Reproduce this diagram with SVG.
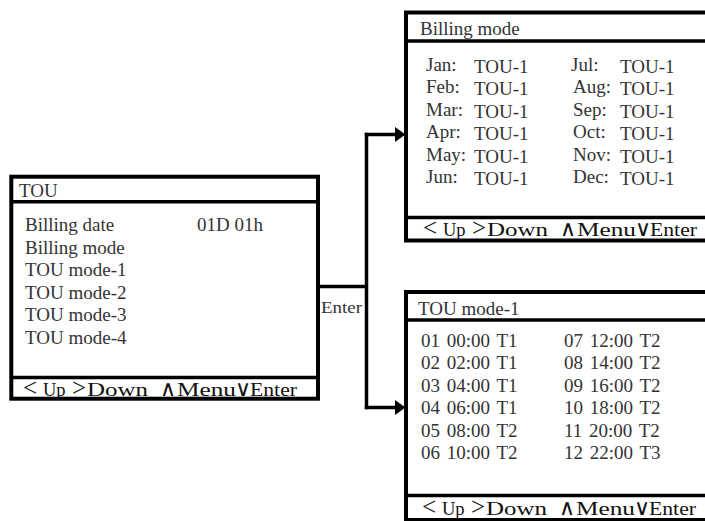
<svg xmlns="http://www.w3.org/2000/svg" width="705" height="521" viewBox="0 0 705 521">
<defs>
<style>
.box{fill:#fff;stroke:#000;stroke-width:4}
.sep{stroke:#000;stroke-width:3.5;fill:none}
.t{font-family:"Liberation Serif",serif;font-size:19px;fill:#333}
.r{word-spacing:2px}
.f{font-family:"Liberation Serif","DejaVu Serif",serif;font-size:18.5px;fill:#111}
.ch{font-size:25px}
.op{font-family:"DejaVu Sans",sans-serif;font-size:22px;font-weight:200}
.lbl{font-family:"Liberation Serif",serif;font-size:17px;fill:#333}
.conn{stroke:#000;stroke-width:3.5;fill:none}
</style>
<marker id="arr" markerUnits="userSpaceOnUse" markerWidth="11" markerHeight="15" refX="0" refY="7.5" orient="auto">
<path d="M0,0 L10.5,7.5 L0,15 z" fill="#000"/>
</marker>
</defs>
<rect width="705" height="521" fill="#fff"/>

<g id="connectors">
<path class="conn" d="M318,286.5 H366.5"/>
<path class="conn" d="M366.5,132.8 V409.2"/>
<path class="conn" d="M364.8,134.5 H395" marker-end="url(#arr)"/>
<path class="conn" d="M364.8,407.5 H395" marker-end="url(#arr)"/>
<text class="lbl" x="321" y="313" textLength="41" lengthAdjust="spacingAndGlyphs">Enter</text>
</g>

<g id="tou-menu">
<rect class="box" x="11.3" y="176.7" width="306.7" height="222"/>
<line class="sep" x1="11.3" y1="201.7" x2="318" y2="201.7"/>
<line class="sep" x1="11.3" y1="377.5" x2="318" y2="377.5"/>
<text class="t" x="19" y="196.5">TOU</text>
<text class="t" x="25" y="231">Billing date</text>
<text class="t" x="197" y="231">01D 01h</text>
<text class="t" x="25" y="253.5">Billing mode</text>
<text class="t" x="25" y="276">TOU mode-1</text>
<text class="t" x="25" y="298.5">TOU mode-2</text>
<text class="t" x="25" y="321">TOU mode-3</text>
<text class="t" x="25" y="343.5">TOU mode-4</text>
<text class="f" y="396"><tspan class="ch" x="23">&lt;</tspan><tspan x="43">Up</tspan><tspan class="ch" x="72">&gt;</tspan><tspan x="87" textLength="61" lengthAdjust="spacingAndGlyphs">Down</tspan><tspan class="op" x="160">∧</tspan><tspan x="177" textLength="59" lengthAdjust="spacingAndGlyphs">Menu</tspan><tspan class="op" x="235">∨</tspan><tspan x="250" textLength="47" lengthAdjust="spacingAndGlyphs">Enter</tspan></text>
</g>

<g id="billing-mode">
<rect class="box" x="406" y="12.5" width="310" height="228"/>
<line class="sep" x1="406" y1="41" x2="710" y2="41"/>
<line class="sep" x1="406" y1="217.5" x2="710" y2="217.5"/>
<text class="t" x="420" y="35">Billing mode</text>
<g class="t">
<text x="426" y="70.5">Jan:</text><text x="474" y="72.5">TOU-1</text>
<text x="426" y="93">Feb:</text><text x="474" y="95">TOU-1</text>
<text x="426" y="115.5">Mar:</text><text x="474" y="117.5">TOU-1</text>
<text x="426" y="138">Apr:</text><text x="474" y="140">TOU-1</text>
<text x="426" y="160.5">May:</text><text x="474" y="162.5">TOU-1</text>
<text x="426" y="183">Jun:</text><text x="474" y="185">TOU-1</text>
<text x="571" y="70.5">Jul:</text><text x="620" y="72.5">TOU-1</text>
<text x="573" y="93">Aug:</text><text x="620" y="95">TOU-1</text>
<text x="573" y="115.5">Sep:</text><text x="620" y="117.5">TOU-1</text>
<text x="573" y="138">Oct:</text><text x="620" y="140">TOU-1</text>
<text x="573" y="160.5">Nov:</text><text x="620" y="162.5">TOU-1</text>
<text x="573" y="183">Dec:</text><text x="620" y="185">TOU-1</text>
</g>
<text class="f" y="236"><tspan class="ch" x="423">&lt;</tspan><tspan x="443">Up</tspan><tspan class="ch" x="472">&gt;</tspan><tspan x="487" textLength="61" lengthAdjust="spacingAndGlyphs">Down</tspan><tspan class="op" x="560">∧</tspan><tspan x="577" textLength="59" lengthAdjust="spacingAndGlyphs">Menu</tspan><tspan class="op" x="635">∨</tspan><tspan x="650" textLength="47" lengthAdjust="spacingAndGlyphs">Enter</tspan></text>
</g>

<g id="tou-mode-1">
<rect class="box" x="406" y="292" width="310" height="228"/>
<line class="sep" x1="406" y1="320" x2="710" y2="320"/>
<line class="sep" x1="406" y1="495.5" x2="710" y2="495.5"/>
<text class="t" x="418" y="315">TOU mode-1</text>
<g class="t r">
<text x="421" y="346.5">01 00:00 T1</text>
<text x="421" y="369">02 02:00 T1</text>
<text x="421" y="391.5">03 04:00 T1</text>
<text x="421" y="414">04 06:00 T1</text>
<text x="421" y="436.5">05 08:00 T2</text>
<text x="421" y="459">06 10:00 T2</text>
<text x="564" y="346.5">07 12:00 T2</text>
<text x="564" y="369">08 14:00 T2</text>
<text x="564" y="391.5">09 16:00 T2</text>
<text x="564" y="414">10 18:00 T2</text>
<text x="564" y="436.5">11 20:00 T2</text>
<text x="564" y="459">12 22:00 T3</text>
</g>
<text class="f" y="515"><tspan class="ch" x="422">&lt;</tspan><tspan x="442">Up</tspan><tspan class="ch" x="471">&gt;</tspan><tspan x="486" textLength="61" lengthAdjust="spacingAndGlyphs">Down</tspan><tspan class="op" x="559">∧</tspan><tspan x="576" textLength="59" lengthAdjust="spacingAndGlyphs">Menu</tspan><tspan class="op" x="634">∨</tspan><tspan x="649" textLength="47" lengthAdjust="spacingAndGlyphs">Enter</tspan></text>
</g>
</svg>
